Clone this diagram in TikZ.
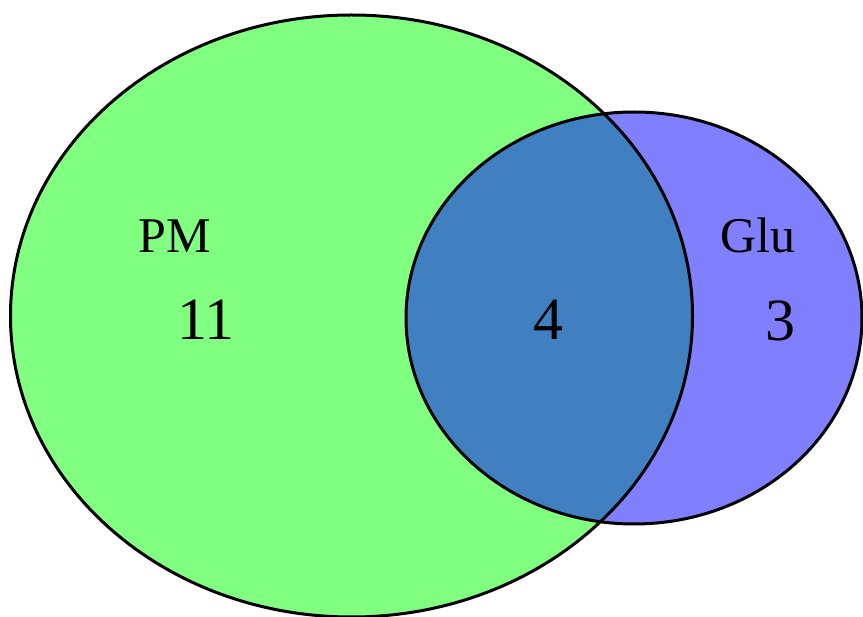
\documentclass[tikz,border=0pt]{standalone}
\usepackage{fontspec}
\setmainfont{Liberation Serif}
\definecolor{setgreen}{RGB}{128,255,128}
\definecolor{setblue}{RGB}{128,128,255}
\definecolor{setboth}{RGB}{64,128,192}
\tikzset{
  setline/.style={draw=black, line width=3pt},
  setname/.style={anchor=base, inner sep=0pt, font=\fontsize{50}{50}\selectfont},
  setcount/.style={anchor=base, inner sep=0pt, font=\fontsize{60}{60}\selectfont}
}
\begin{document}
\begin{tikzpicture}[x=1pt,y=-1pt]
\useasboundingbox (0,0) rectangle (863,617);
\fill[setgreen] (351.5,316) ellipse [x radius=341, y radius=301];
\fill[setblue] (634,318) ellipse [x radius=228, y radius=206];
\begin{scope}
  \clip (351.5,316) ellipse [x radius=341, y radius=301];
  \fill[setboth] (634,318) ellipse [x radius=228, y radius=206];
\end{scope}
\draw[setline] (351.5,316) ellipse [x radius=341, y radius=301];
\draw[setline] (634,318) ellipse [x radius=228, y radius=206];
\node[setname] (pm) at (175,253) {PM};
\node[setcount] (n11) at (206,340) {11};
\node[setname] (glu) at (758,253) {Glu};
\node[setcount] (n3) at (780,341) {3};
\node[setcount] (n4) at (548,340) {4};
\end{tikzpicture}
\end{document}
